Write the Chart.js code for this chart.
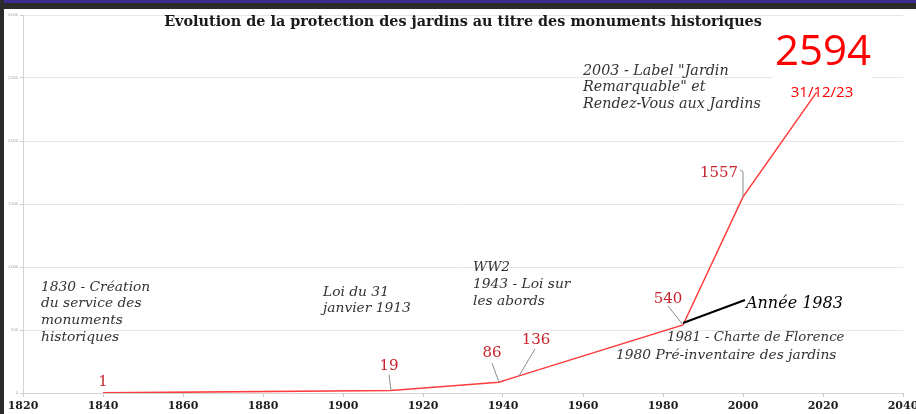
<!DOCTYPE html>
<html lang="fr">
<head>
    <meta charset="UTF-8">
    <title>Evolution de la protection des jardins</title>
    <script src="https://cdn.jsdelivr.net/npm/chart.js"></script>
    <style>
        body {
            margin: 0;
            padding: 0;
            background-color: #ffffff;
            width: 916px;
            height: 414px;
            overflow: hidden;
        }
        .frame {
            position: relative;
            width: 916px;
            height: 414px;
        }
        .top-band {
            position: absolute;
            left: 0; top: 0;
            width: 916px; height: 9px;
            background: #2a2a2a;
            border-top: 3px solid #3d2c8d;
            box-sizing: border-box;
        }
        .left-band {
            position: absolute;
            left: 0; top: 0;
            width: 4px; height: 414px;
            background: #2a2a2a;
        }
        canvas { position: absolute; left: 0; top: 0; }
    </style>
</head>
<body>
    <div class="frame">
        <canvas id="jardinsChart" width="916" height="414"></canvas>
        <div class="top-band"></div>
        <div class="left-band"></div>
    </div>

    <script>
        // nombre de jardins protégés (année, total)
        const years = [1840, 1912, 1939, 1944, 1985, 2000, 2023];
        const gardens = [1, 19, 86, 136, 540, 1557, 2594];
        const pointLabels = ['1', '19', '86', '136', '540', '1557', ''];

        const titleText = 'Evolution de la protection des jardins au titre des monuments historiques';

        // étiquettes des valeurs : décalage (px) par rapport au point, trait de rappel
        const labelOffsets = [
            { dx: 0, dy: -11, leader: null },
            { dx: -2, dy: -24, leader: [[-2, -16]] },
            { dx: -7, dy: -29, leader: [[-7, -19]] },
            { dx: 17, dy: -36, leader: [[16, -27]] },
            { dx: -15, dy: -26, leader: [[-15, -19]] },
            { dx: -24, dy: -24, leader: [[-3, -27], [0, -25]] },
            null
        ];

        // textes des événements, placés en coordonnées (année, valeur)
        const notes = [
            { lines: ['1830 - Création', 'du service des', 'monuments', 'historiques'], year: 1824.5, value: 841, lh: 16.7, size: 13.8 },
            { lines: ['Loi du 31', 'janvier 1913'], year: 1895, value: 802, lh: 16, size: 13.8 },
            { lines: ['WW2', '1943 - Loi sur', 'les abords'], year: 1932.5, value: 1000, lh: 17, size: 13.8 },
            { lines: ['2003 - Label "Jardin', 'Remarquable" et', 'Rendez-Vous aux Jardins'], year: 1960, value: 2556, lh: 16.5, size: 14.3 },
            { lines: ['1981 - Charte de Florence'], year: 1981, value: 444, lh: 16, size: 13.3 },
            { lines: ['1980 Pré-inventaire des jardins'], year: 1968.25, value: 302, lh: 16, size: 13.8 }
        ];

        const serif = '"DejaVu Serif", Georgia, serif';
        const sans = '"Open Sans", "Liberation Sans", sans-serif';

        const annotationsPlugin = {
            id: 'annotations',
            afterDatasetsDraw(chart) {
                const c = chart.ctx;
                const xs = chart.scales.x;
                const ys = chart.scales.y;
                const px = i => xs.getPixelForValue(years[i]);
                const py = i => ys.getPixelForValue(gardens[i]);
                c.save();

                // titre
                c.fillStyle = '#1a1a1a';
                c.font = 'bold 14.4px ' + serif;
                c.textAlign = 'center';
                c.textBaseline = 'middle';
                c.fillText(titleText, 463, 22);

                // traits de rappel et valeurs
                pointLabels.forEach((t, i) => {
                    const o = labelOffsets[i];
                    if (!o || !t) return;
                    const x = px(i), y = py(i);
                    if (o.leader) {
                        c.strokeStyle = '#8c8c8c';
                        c.lineWidth = 1;
                        c.beginPath();
                        c.moveTo(x + o.leader[0][0], y + o.leader[0][1]);
                        o.leader.slice(1).forEach(p => c.lineTo(x + p[0], y + p[1]));
                        c.lineTo(x, y);
                        c.stroke();
                    }
                    c.fillStyle = '#c8232c';
                    c.font = '15px ' + serif;
                    c.textAlign = 'center';
                    c.textBaseline = 'middle';
                    c.fillText(t, x + o.dx, y + o.dy);
                });

                // dernier point : 2594 au 31/12/23
                const last = years.length - 1;
                const lx = px(last), ly = py(last);
                c.fillStyle = '#ffffff';
                c.fillRect(lx - 62, ly - 36, 99, 62);
                c.fillStyle = '#ff0000';
                c.font = '42px ' + sans;
                c.textAlign = 'center';
                c.textBaseline = 'middle';
                c.fillText(String(gardens[last]), lx - 12, ly - 13);
                c.font = '15px ' + sans;
                c.fillText('31/12/23', lx - 13, ly + 27);

                // année 1983
                const ax = px(4), ay = py(4);
                c.strokeStyle = '#000000';
                c.lineWidth = 2;
                c.beginPath();
                c.moveTo(ax, ay - 2);
                c.lineTo(ax + 62, ay - 25);
                c.stroke();
                c.fillStyle = '#000000';
                c.font = 'italic 16px ' + serif;
                c.textAlign = 'left';
                c.fillText('Année 1983', ax + 63, ay - 21);

                // événements
                c.fillStyle = '#333333';
                notes.forEach(n => {
                    const x = xs.getPixelForValue(n.year);
                    const y = ys.getPixelForValue(n.value);
                    c.font = 'italic ' + n.size + 'px ' + serif;
                    c.textAlign = 'left';
                    c.textBaseline = 'middle';
                    n.lines.forEach((l, k) => c.fillText(l, x, y + k * n.lh));
                });
                c.restore();
            }
        };

        const ctx = document.getElementById('jardinsChart').getContext('2d');
        const jardinsChart = new Chart(ctx, {
            type: 'line',
            data: {
                datasets: [{
                    label: 'Jardins protégés',
                    data: years.map((y, i) => ({ x: y, y: gardens[i] })),
                    borderColor: '#ff3b3b',
                    borderWidth: 1.5,
                    pointRadius: 0,
                    tension: 0,
                    fill: false
                }]
            },
            options: {
                responsive: false,
                animation: false,
                layout: {
                    padding: { left: 6, right: 13, top: 15, bottom: 0 }
                },
                plugins: {
                    legend: { display: false },
                    tooltip: { enabled: false }
                },
                scales: {
                    x: {
                        type: 'linear',
                        min: 1820,
                        max: 2040,
                        afterFit(s) { s.height = 21; s.paddingLeft = 0; s.paddingRight = 0; },
                        grid: {
                            drawOnChartArea: false,
                            tickLength: 4,
                            color: '#cccccc'
                        },
                        border: { color: '#d4d4d4' },
                        ticks: {
                            stepSize: 20,
                            padding: 3,
                            maxRotation: 0,
                            color: '#1e1e1e',
                            font: { family: serif, size: 11, weight: 'bold' },
                            callback: v => String(v)
                        }
                    },
                    y: {
                        min: 0,
                        max: 3000,
                        afterFit(s) { s.width = 17; s.paddingTop = 0; s.paddingBottom = 0; },
                        grid: {
                            color: '#e6e6e6',
                            tickLength: 3,
                            tickColor: '#c8c8c8'
                        },
                        border: { color: '#d4d4d4' },
                        ticks: {
                            stepSize: 500,
                            padding: 2,
                            color: '#a0a0a0',
                            font: { size: 4 }
                        }
                    }
                }
            },
            plugins: [annotationsPlugin]
        });
    </script>
</body>
</html>
